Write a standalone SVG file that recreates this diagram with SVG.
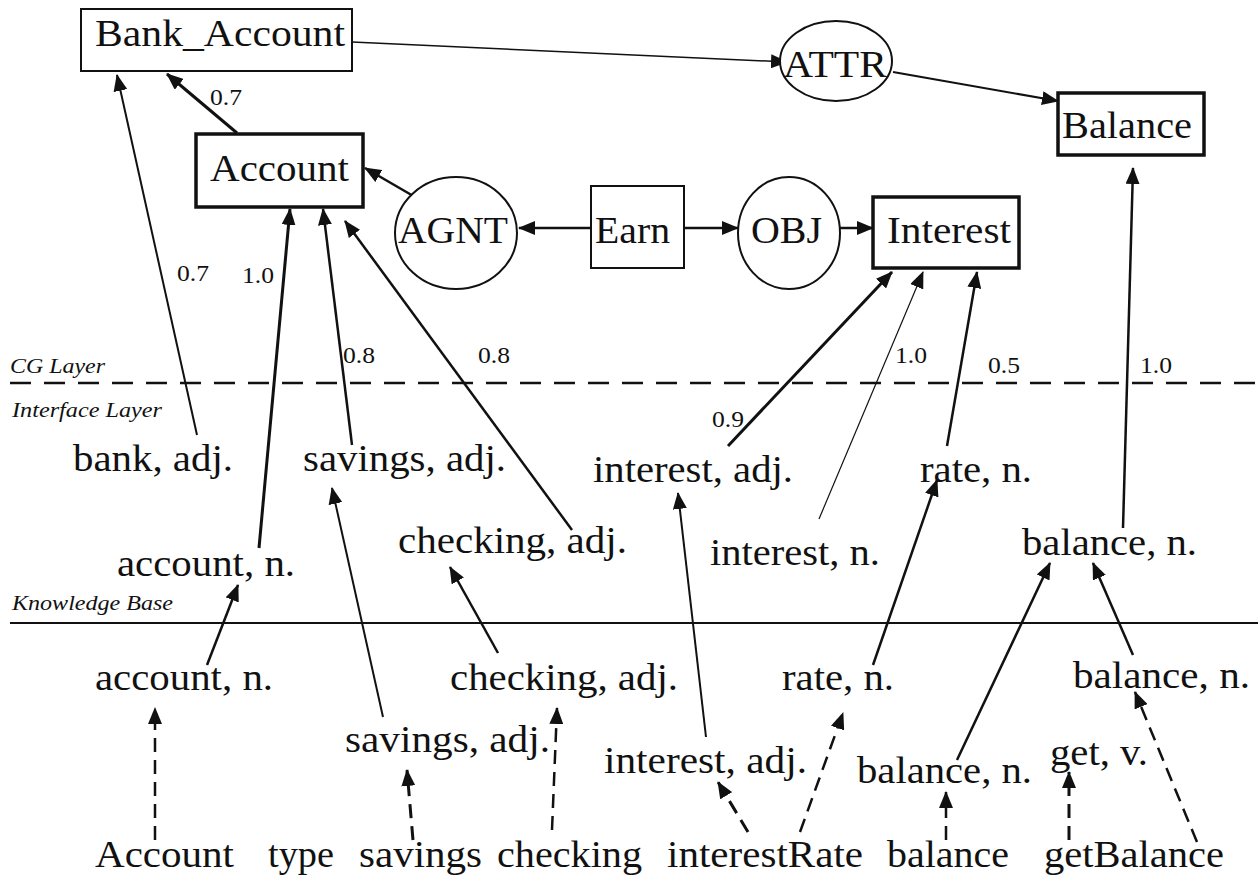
<svg xmlns="http://www.w3.org/2000/svg" width="1258" height="877" viewBox="0 0 1258 877" font-family="Liberation Serif, DejaVu Serif, serif">
  <style>
    text { font-family: 'Liberation Serif', 'Times New Roman', 'DejaVu Serif', serif; fill: #111; }
    .big { font-size: 38px; }
    .num { font-size: 24px; }
    .layer { font-size: 22px; font-style: italic; }
    .box { fill: #fff; stroke: #111; }
    .thin { stroke-width: 2; }
    .thick { stroke-width: 3.5; }
    .rel { fill: #fff; stroke: #111; stroke-width: 2; }
    .arr { fill: none; stroke: #111; marker-end: url(#head); }
    .dash { stroke-dasharray: 14 8; }
  </style>
  <defs>
    <marker id="head" markerUnits="userSpaceOnUse" markerWidth="17" markerHeight="14" refX="16" refY="7" orient="auto">
      <path d="M0,0 L17,7 L0,14 Z" fill="#111"/>
    </marker>
  </defs>
  <rect width="1258" height="877" fill="#fff"/>

  <!-- layer separators -->
  <g id="layers">
    <line x1="10" y1="383" x2="1258" y2="383" stroke="#111" stroke-width="2.5" stroke-dasharray="21 13"/>
    <line x1="10" y1="623" x2="1258" y2="623" stroke="#111" stroke-width="2"/>
    <text class="layer" x="10" y="373" textLength="95" lengthAdjust="spacingAndGlyphs">CG Layer</text>
    <text class="layer" x="12" y="417" textLength="150" lengthAdjust="spacingAndGlyphs">Interface Layer</text>
    <text class="layer" x="12" y="610" textLength="161" lengthAdjust="spacingAndGlyphs">Knowledge Base</text>
  </g>

  <!-- connectors -->
  <g id="connectors">
    <!-- conceptual graph -->
    <line class="arr" stroke-width="1.5" x1="352" y1="42" x2="787" y2="62"/>
    <line class="arr" stroke-width="2" x1="893" y1="72" x2="1058" y2="101"/>
    <line class="arr" stroke-width="3" x1="237" y1="133" x2="167" y2="74"/>
    <line class="arr" stroke-width="2.5" x1="415" y1="197" x2="365" y2="168"/>
    <line class="arr" stroke-width="2.5" x1="591" y1="228" x2="519" y2="228"/>
    <line class="arr" stroke-width="2.5" x1="684" y1="228" x2="738" y2="228"/>
    <line class="arr" stroke-width="2.5" x1="840" y1="228" x2="873" y2="228"/>

    <!-- interface layer to CG -->
    <line class="arr" stroke-width="2" x1="197" y1="435" x2="117" y2="75"/>
    <line class="arr" stroke-width="3" x1="259" y1="548" x2="290" y2="209"/>
    <line class="arr" stroke-width="2.5" x1="352" y1="445" x2="323" y2="209"/>
    <line class="arr" stroke-width="2.5" x1="572" y1="530" x2="345" y2="221"/>
    <line class="arr" stroke-width="3" x1="728" y1="446" x2="892" y2="272"/>
    <line class="arr" stroke-width="1.2" x1="819" y1="519" x2="923" y2="272"/>
    <line class="arr" stroke-width="2.5" x1="947" y1="446" x2="977" y2="272"/>
    <line class="arr" stroke-width="2.5" x1="1123" y1="528" x2="1133" y2="168"/>

    <!-- knowledge base to interface layer -->
    <line class="arr" stroke-width="2.5" x1="207" y1="665" x2="238" y2="585"/>
    <line class="arr" stroke-width="2" x1="383" y1="717" x2="332" y2="488"/>
    <line class="arr" stroke-width="2.5" x1="498" y1="653" x2="450" y2="567"/>
    <line class="arr" stroke-width="2" x1="706" y1="737" x2="678" y2="493"/>
    <line class="arr" stroke-width="2.5" x1="873" y1="665" x2="937" y2="480"/>
    <line class="arr" stroke-width="2.5" x1="957" y1="760" x2="1050" y2="563"/>
    <line class="arr" stroke-width="2.5" x1="1133" y1="655" x2="1093" y2="563"/>

    <!-- source identifiers to knowledge base -->
    <line class="arr dash" stroke-width="2.5" x1="155" y1="840" x2="155" y2="708"/>
    <line class="arr dash" stroke-width="3" x1="413" y1="840" x2="407" y2="770"/>
    <line class="arr dash" stroke-width="2.5" x1="552" y1="830" x2="557" y2="708"/>
    <line class="arr dash" stroke-width="3" x1="748" y1="832" x2="718" y2="782"/>
    <line class="arr dash" stroke-width="2.5" x1="800" y1="832" x2="843" y2="713"/>
    <line class="arr dash" stroke-width="2.5" x1="946" y1="840" x2="946" y2="792"/>
    <line class="arr dash" stroke-width="3" x1="1069" y1="840" x2="1069" y2="772"/>
    <line class="arr dash" stroke-width="2.5" x1="1197" y1="842" x2="1135" y2="692"/>
  </g>

  <!-- weights -->
  <g id="weights">
    <text class="num" x="210" y="105" textLength="32" lengthAdjust="spacingAndGlyphs">0.7</text>
    <text class="num" x="177" y="281" textLength="32" lengthAdjust="spacingAndGlyphs">0.7</text>
    <text class="num" x="242" y="283" textLength="32" lengthAdjust="spacingAndGlyphs">1.0</text>
    <text class="num" x="343" y="363" textLength="32" lengthAdjust="spacingAndGlyphs">0.8</text>
    <text class="num" x="478" y="363" textLength="32" lengthAdjust="spacingAndGlyphs">0.8</text>
    <text class="num" x="712" y="427" textLength="32" lengthAdjust="spacingAndGlyphs">0.9</text>
    <text class="num" x="895" y="363" textLength="32" lengthAdjust="spacingAndGlyphs">1.0</text>
    <text class="num" x="988" y="373" textLength="32" lengthAdjust="spacingAndGlyphs">0.5</text>
    <text class="num" x="1140" y="373" textLength="32" lengthAdjust="spacingAndGlyphs">1.0</text>
  </g>

  <!-- CG layer nodes -->
  <g id="bank_account">
    <rect class="box thin" x="81" y="9" width="271" height="62"/>
    <text class="big" x="95" y="46" textLength="250" lengthAdjust="spacingAndGlyphs">Bank_Account</text>
  </g>
  <g id="attr">
    <ellipse class="rel" cx="836" cy="61" rx="56" ry="40"/>
    <text class="big" x="783" y="77" textLength="104" lengthAdjust="spacingAndGlyphs">ATTR</text>
  </g>
  <g id="balance">
    <rect class="box thick" x="1058" y="93" width="146" height="62"/>
    <text class="big" x="1062" y="138" textLength="130" lengthAdjust="spacingAndGlyphs">Balance</text>
  </g>
  <g id="account">
    <rect class="box thick" x="196" y="134" width="167" height="73"/>
    <text class="big" x="210" y="181" textLength="139" lengthAdjust="spacingAndGlyphs">Account</text>
  </g>
  <g id="agnt">
    <ellipse class="rel" cx="456" cy="233" rx="61" ry="56"/>
    <text class="big" x="398" y="243" textLength="110" lengthAdjust="spacingAndGlyphs">AGNT</text>
  </g>
  <g id="earn">
    <rect class="box thin" x="591" y="186" width="93" height="82"/>
    <text class="big" x="595" y="243" textLength="75" lengthAdjust="spacingAndGlyphs">Earn</text>
  </g>
  <g id="obj">
    <ellipse class="rel" cx="789" cy="233" rx="51" ry="56"/>
    <text class="big" x="751" y="243" textLength="71" lengthAdjust="spacingAndGlyphs">OBJ</text>
  </g>
  <g id="interest">
    <rect class="box thick" x="873" y="197" width="146" height="71"/>
    <text class="big" x="887" y="243" textLength="124" lengthAdjust="spacingAndGlyphs">Interest</text>
  </g>

  <!-- interface layer -->
  <g id="if_bank"><text class="big" x="73" y="471" textLength="160" lengthAdjust="spacingAndGlyphs">bank, adj.</text></g>
  <g id="if_savings"><text class="big" x="303" y="471" textLength="203" lengthAdjust="spacingAndGlyphs">savings, adj.</text></g>
  <g id="if_account"><text class="big" x="117" y="576" textLength="178" lengthAdjust="spacingAndGlyphs">account, n.</text></g>
  <g id="if_checking"><text class="big" x="398" y="553" textLength="229" lengthAdjust="spacingAndGlyphs">checking, adj.</text></g>
  <g id="if_interest_adj"><text class="big" x="593" y="482" textLength="200" lengthAdjust="spacingAndGlyphs">interest, adj.</text></g>
  <g id="if_interest_n"><text class="big" x="710" y="565" textLength="170" lengthAdjust="spacingAndGlyphs">interest, n.</text></g>
  <g id="if_rate"><text class="big" x="920" y="482" textLength="112" lengthAdjust="spacingAndGlyphs">rate, n.</text></g>
  <g id="if_balance"><text class="big" x="1022" y="555" textLength="175" lengthAdjust="spacingAndGlyphs">balance, n.</text></g>

  <!-- knowledge base -->
  <g id="kb_account"><text class="big" x="95" y="690" textLength="178" lengthAdjust="spacingAndGlyphs">account, n.</text></g>
  <g id="kb_checking"><text class="big" x="450" y="690" textLength="228" lengthAdjust="spacingAndGlyphs">checking, adj.</text></g>
  <g id="kb_rate"><text class="big" x="782" y="690" textLength="112" lengthAdjust="spacingAndGlyphs">rate, n.</text></g>
  <g id="kb_balance_a"><text class="big" x="1073" y="688" textLength="177" lengthAdjust="spacingAndGlyphs">balance, n.</text></g>
  <g id="kb_savings"><text class="big" x="345" y="752" textLength="205" lengthAdjust="spacingAndGlyphs">savings, adj.</text></g>
  <g id="kb_interest"><text class="big" x="604" y="773" textLength="203" lengthAdjust="spacingAndGlyphs">interest, adj.</text></g>
  <g id="kb_balance_b"><text class="big" x="857" y="783" textLength="175" lengthAdjust="spacingAndGlyphs">balance, n.</text></g>
  <g id="kb_get"><text class="big" x="1050" y="765" textLength="98" lengthAdjust="spacingAndGlyphs">get, v.</text></g>

  <!-- source identifiers -->
  <g id="src_account"><text class="big" x="95" y="867" textLength="139" lengthAdjust="spacingAndGlyphs">Account</text></g>
  <g id="src_type"><text class="big" x="268" y="867" textLength="66" lengthAdjust="spacingAndGlyphs">type</text></g>
  <g id="src_savings"><text class="big" x="359" y="867" textLength="123" lengthAdjust="spacingAndGlyphs">savings</text></g>
  <g id="src_checking"><text class="big" x="497" y="867" textLength="145" lengthAdjust="spacingAndGlyphs">checking</text></g>
  <g id="src_interestRate"><text class="big" x="667" y="867" textLength="196" lengthAdjust="spacingAndGlyphs">interestRate</text></g>
  <g id="src_balance"><text class="big" x="887" y="867" textLength="122" lengthAdjust="spacingAndGlyphs">balance</text></g>
  <g id="src_getBalance"><text class="big" x="1044" y="867" textLength="180" lengthAdjust="spacingAndGlyphs">getBalance</text></g>
</svg>
